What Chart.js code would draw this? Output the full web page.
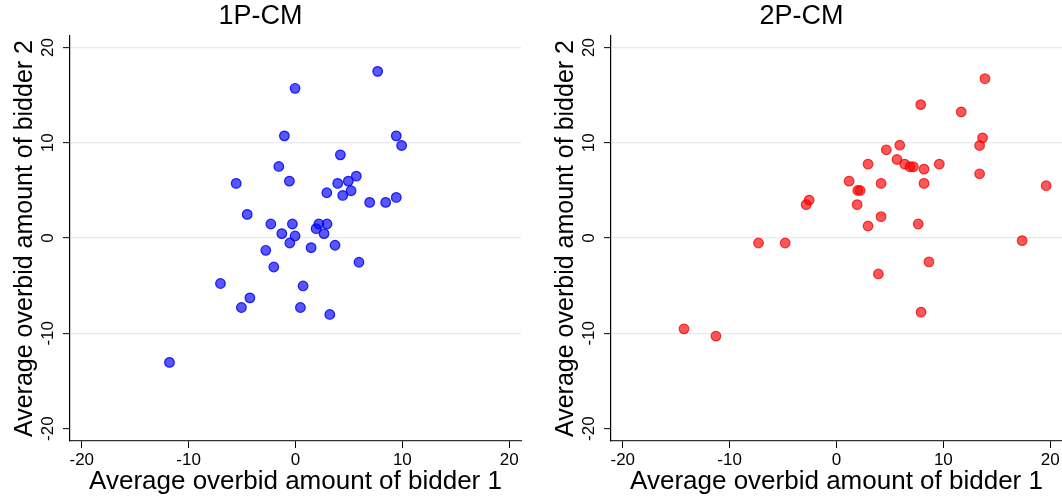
<!DOCTYPE html>
<html>
<head>
<meta charset="utf-8">
<script src="https://cdn.jsdelivr.net/npm/chart.js@4/dist/chart.umd.min.js"></script>
<style>
  html, body { margin: 0; padding: 0; background: #fff; overflow: hidden; width: 1062px; height: 500px; }
  .panel { position: absolute; top: 0; width: 531px; height: 500px; }
  #p1 { left: 0; }
  #p2 { left: 541px; }
</style>
</head>
<body>
<div class="panel" id="p1"><canvas id="c1" width="531" height="500"></canvas></div>
<div class="panel" id="p2"><canvas id="c2" width="531" height="500"></canvas></div>
<script>
// Panel titles
const panelTitles = ['1P-CM', '2P-CM'];
const xAxisTitle = 'Average overbid amount of bidder 1';
const yAxisTitle = 'Average overbid amount of bidder 2';

// Tick values shared by both panels
const xTicks = [-20, -10, 0, 10, 20];
const yTicks = [-20, -10, 0, 10, 20];

// 1P-CM: average overbid of bidder 1 (x) and bidder 2 (y) per pair
const oneX = [7.69, -0.04, -1.04, 9.43, 9.93, 4.20, -1.56, -5.55, -0.57, 5.69,
              4.94, 3.95, 5.20, 4.42, 2.93, 6.94, 8.44, 9.43, -4.52, -2.31,
              -0.29, 2.18, 2.95, 1.93, 2.67, -1.28, -0.04, -0.53, 1.46, 3.70,
              -2.78, -2.03, 5.94, -7.02, 0.71, -4.27, -5.06, 0.46, 3.21, -11.79];
const oneY = [17.49, 15.71, 10.72, 10.72, 9.71, 8.73, 7.51, 5.73, 5.97, 6.49,
              5.97, 5.73, 4.96, 4.47, 4.75, 3.74, 3.74, 4.26, 2.48, 1.47,
              1.47, 1.47, 1.47, 0.98, 0.46, 0.46, 0.21, -0.52, -1.01, -0.76,
              -1.29, -3.04, -2.54, -4.77, -5.03, -6.28, -7.29, -7.29, -8.02, -13.05];

// 2P-CM: average overbid of bidder 1 (x) and bidder 2 (y) per pair
const twoX = [13.89, 7.88, 11.67, 13.67, 13.39, 5.92, 4.66, 5.66, 6.38, 6.88,
              7.19, 8.19, 9.62, 2.95, 13.39, 19.62, 1.18, 4.17, 8.19, 1.99,
              2.21, -2.56, -2.84, 1.93, 4.17, 2.95, 7.65, -7.30, -4.80, 17.37,
              8.65, 3.92, 7.91, -14.27, -11.28];
const twoY = [16.72, 14.00, 13.24, 10.51, 9.71, 9.74, 9.26, 8.24, 7.75, 7.48,
              7.48, 7.23, 7.75, 7.75, 6.74, 5.49, 5.97, 5.73, 5.73, 4.99,
              4.99, 3.98, 3.50, 3.50, 2.24, 1.26, 1.47, -0.52, -0.52, -0.27,
              -2.51, -3.77, -7.78, -9.53, -10.29];

const FONT = "'Liberation Sans', Arial, Helvetica, sans-serif";

function pairs(xs, ys) {
  return xs.map((x, i) => ({ x: x, y: ys[i] }));
}

// Vertical (rotated) tick labels on the y axis, placed at the scale's tick pixels
const rotatedYLabels = {
  id: 'rotatedYLabels',
  afterDraw(chart) {
    const s = chart.scales.y;
    const ctx = chart.ctx;
    ctx.save();
    ctx.fillStyle = '#000';
    ctx.font = '17px ' + FONT;
    ctx.textAlign = 'center';
    ctx.textBaseline = 'alphabetic';
    yTicks.forEach(v => {
      const py = s.getPixelForValue(v);
      ctx.save();
      ctx.translate(s.right - 17, py);
      ctx.rotate(-Math.PI / 2);
      ctx.fillText(String(v), 0, 0);
      ctx.restore();
    });
    ctx.restore();
  }
};

function makePanel(canvasId, title, data, fill, stroke) {
  return new Chart(document.getElementById(canvasId), {
    type: 'scatter',
    data: {
      datasets: [{
        data: data,
        backgroundColor: fill,
        borderColor: stroke,
        borderWidth: 1.2,
        pointRadius: 4.8,
        pointHoverRadius: 4.8
      }]
    },
    plugins: [rotatedYLabels],
    options: {
      responsive: false,
      animation: false,
      events: [],
      layout: { padding: { left: 0, right: 10, top: 0, bottom: 0 } },
      plugins: {
        legend: { display: false },
        tooltip: { enabled: false },
        title: {
          display: true,
          text: title,
          color: '#000',
          font: { family: FONT, size: 27, weight: 'normal', lineHeight: 1.2 },
          padding: { top: 0, bottom: 3.6 }
        }
      },
      scales: {
        x: {
          type: 'linear',
          min: -21.1,
          max: 21.1,
          afterBuildTicks: (scale) => { scale.ticks = xTicks.map(v => ({ value: v })); },
          afterFit: (scale) => { scale.height = 59; },
          grid: {
            drawOnChartArea: false,
            drawTicks: true,
            tickLength: 7,
            tickColor: '#000',
            tickWidth: 1
          },
          border: { display: true, color: '#333', width: 1.2 },
          ticks: {
            color: '#000',
            font: { family: FONT, size: 17 },
            padding: 2,
            maxRotation: 0,
            minRotation: 0
          },
          title: {
            display: true,
            text: xAxisTitle,
            color: '#000',
            font: { family: FONT, size: 26, lineHeight: 1.2 },
            padding: { top: 0, bottom: 2.4 }
          }
        },
        y: {
          type: 'linear',
          min: -21.3,
          max: 21.2,
          afterBuildTicks: (scale) => { scale.ticks = yTicks.map(v => ({ value: v })); },
          afterFit: (scale) => { scale.width = 70; },
          grid: {
            drawOnChartArea: true,
            drawTicks: true,
            tickLength: 7,
            tickColor: '#000',
            tickWidth: 1,
            lineWidth: 1.3,
            color: (c) => (c.tick && c.tick.value === -20) ? 'rgba(0,0,0,0)' : '#e4ebf0'
          },
          border: { display: true, color: '#000', width: 1.2 },
          ticks: { display: false },
          title: {
            display: true,
            text: yAxisTitle,
            color: '#000',
            font: { family: FONT, size: 25, lineHeight: 1.2 },
            padding: { top: 10, bottom: 0 }
          }
        }
      }
    }
  });
}

makePanel('c1', panelTitles[0], pairs(oneX, oneY), 'rgba(0,0,255,0.66)', 'rgba(0,0,235,0.85)');
makePanel('c2', panelTitles[1], pairs(twoX, twoY), 'rgba(255,0,0,0.66)', 'rgba(235,0,0,0.75)');
</script>
</body>
</html>
